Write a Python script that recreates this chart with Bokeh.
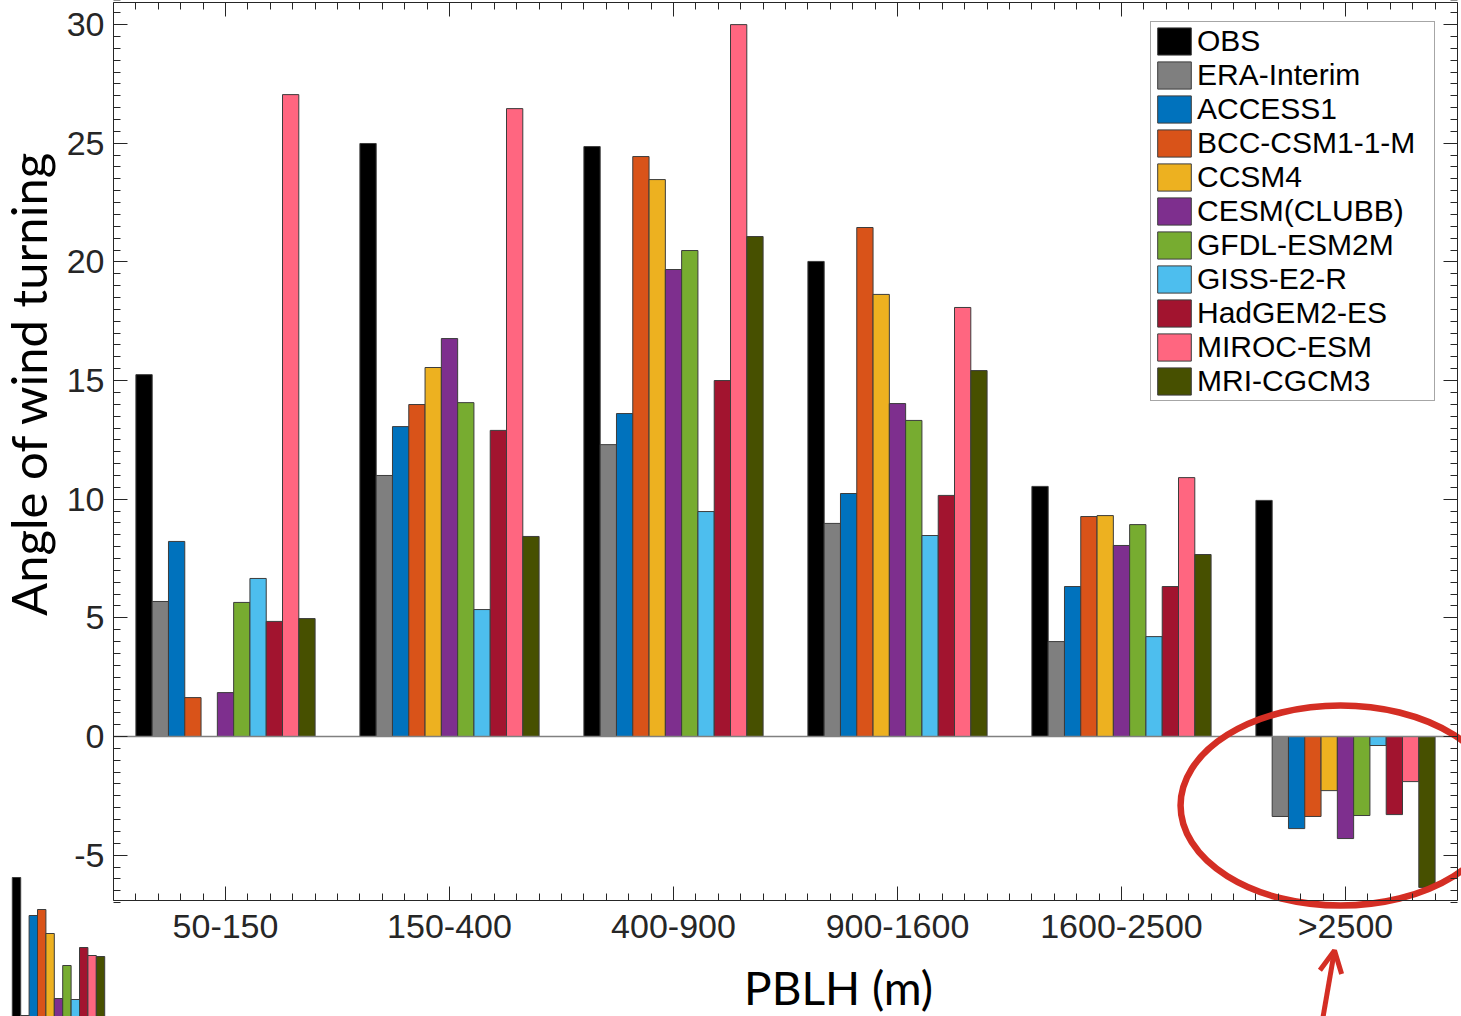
import numpy as np
from bokeh.plotting import figure
from bokeh.models import (ColumnDataSource, FixedTicker, LinearAxis, Legend, LegendItem,
                          Range1d, Label, Grid, Arrow, OpenHead)
from bokeh.embed import file_html
from bokeh.resources import INLINE

nan = float("nan")

# ---------------- data ----------------
categories = ["50-150", "150-400", "400-900", "900-1600", "1600-2500", ">2500"]
series_names = ["OBS", "ERA-Interim", "ACCESS1", "BCC-CSM1-1-M", "CCSM4", "CESM(CLUBB)",
                "GFDL-ESM2M", "GISS-E2-R", "HadGEM2-ES", "MIROC-ESM", "MRI-CGCM3"]
colors = ["#000000", "#7f7f7f", "#0072bd", "#d95319", "#edb120", "#7e2f8e",
          "#77ac30", "#4dbeee", "#a2142f", "#ff6680", "#475000"]

obs          = [15.25, 24.99, 24.86, 20.02, 10.54, 9.95]
era_interim  = [5.69, 11.00, 12.30, 8.98, 4.00, -3.37]
access1      = [8.22, 13.06, 13.61, 10.24, 6.32, -3.88]
bcc_csm1_1_m = [1.64, 13.99, 24.44, 21.45, 9.27, -3.37]
ccsm4        = [nan, 15.55, 23.47, 18.63, 9.31, -2.28]
cesm_clubb   = [1.85, 16.77, 19.68, 14.03, 8.05, -4.30]
gfdl_esm2m   = [5.65, 14.07, 20.48, 13.32, 8.93, -3.33]
giss_e2_r    = [6.66, 5.35, 9.48, 8.47, 4.21, -0.38]
hadgem2_es   = [4.85, 12.90, 15.00, 10.16, 6.32, -3.29]
miroc_esm    = [27.05, 26.46, 30.00, 18.08, 10.91, -1.90]
mri_cgcm3    = [4.97, 8.43, 21.07, 15.42, 7.67, -6.36]

series_values = [obs, era_interim, access1, bcc_csm1_1_m, ccsm4, cesm_clubb,
                 gfdl_esm2m, giss_e2_r, hadgem2_es, miroc_esm, mri_cgcm3]

y_major = [-5, 0, 5, 10, 15, 20, 25, 30]
y_title = "Angle of wind turning"
x_title = "PBLH (m)"

# cropped fragment of a neighbouring panel visible at the bottom-left of the picture
inset_values = [139, 1, 101, 107, 83, 18, 51, 17, 69, 61, 60]

# ---------------- geometry (ranges of the drawing) ----------------
W, H = 1461, 1016
X_LO, X_HI = 0.5, 6.5          # plotted x extent (axis box)
Y_LO, Y_HI = -6.911, 30.93     # plotted y extent (axis box)
# canvas-wide ranges so that the axis box sits at the same place as in the reference
XR = Range1d(-0.00446, 6.5179)
YR = Range1d(-11.799, 31.016)

AX = "#262626"
RED = "#d42e24"

p = figure(width=W, height=H, output_backend="svg", toolbar_location=None,
           x_range=XR, y_range=YR, x_axis_location=None, y_axis_location=None,
           min_border=0)
p.outline_line_color = None
p.background_fill_color = "white"
p.border_fill_color = "white"
for obj in list(p.center):
    if isinstance(obj, Grid):
        obj.visible = False

# inset (fragment) coordinates: one unit per bar / per pixel
p.extra_x_ranges = {"inset_x": Range1d(-1.905, 172.0)}
p.extra_y_ranges = {"inset_y": Range1d(0, 1016)}

ngroups = len(categories)
nser = len(series_names)
bw = 0.8 / nser
gx = np.arange(1, ngroups + 1, dtype=float)

items = []
for j, (name, vals, col) in enumerate(zip(series_names, series_values, colors)):
    src = ColumnDataSource(dict(x=gx + (j - (nser - 1) / 2) * bw, top=np.array(vals, dtype=float)))
    r = p.vbar(x="x", top="top", bottom=0, width=bw, source=src,
               fill_color=col, line_color="#3c3c3c", line_width=1)
    items.append(LegendItem(label=name, renderers=[r]))

# zero line across the axis box
p.segment(x0=[X_LO], y0=[0], x1=[X_HI], y1=[0], line_color="#808080", line_width=1.5)

# fragment bars
p.vbar(x=np.arange(len(inset_values)), top=inset_values, bottom=0, width=1.0,
       fill_color=colors, line_color="#3c3c3c", line_width=1,
       x_range_name="inset_x", y_range_name="inset_y")

# ---------------- axes (box with inward ticks on four sides) ----------------
xt = FixedTicker(ticks=list(gx), minor_ticks=[round(v, 2) for v in np.arange(0.5, 6.51, 0.1)])
yt = FixedTicker(ticks=y_major, minor_ticks=[round(v, 2) for v in np.arange(-7, 31.01, 0.5)])


def style(ax):
    ax.axis_line_color = AX
    ax.axis_line_width = 1
    ax.major_tick_line_color = AX
    ax.minor_tick_line_color = AX
    ax.major_tick_in = 14
    ax.major_tick_out = 0
    ax.minor_tick_in = 7
    ax.minor_tick_out = 0
    ax.major_label_text_font = "Liberation Sans"
    ax.major_label_text_font_size = "34px"
    ax.major_label_text_color = AX


xb = LinearAxis(ticker=xt, fixed_location=Y_LO, bounds=(X_LO, X_HI),
                major_label_overrides={int(i + 1): c for i, c in enumerate(categories)})
style(xb)
xb.major_label_standoff = 6
p.add_layout(xb, "below")

yl = LinearAxis(ticker=yt, fixed_location=X_LO, bounds=(Y_LO, Y_HI),
                major_label_overrides={v: str(v) for v in y_major})
style(yl)
yl.major_label_standoff = 9
p.add_layout(yl, "left")

xtop = LinearAxis(ticker=xt, fixed_location=Y_HI, bounds=(X_LO, X_HI),
                  major_label_overrides={int(v): "" for v in gx})
style(xtop)
p.add_layout(xtop, "above")

yr = LinearAxis(ticker=yt, fixed_location=X_HI, bounds=(Y_LO, Y_HI),
                major_label_overrides={v: "" for v in y_major})
style(yr)
p.add_layout(yr, "right")

# axis titles
p.add_layout(Label(x=0.1161, y=14.88, text=y_title, angle=np.pi / 2, angle_units="rad",
                   text_align="center", text_baseline="alphabetic",
                   text_font="Lato", text_font_size="49px", text_color="black"))
p.add_layout(Label(x=3.737, y=-10.577, text=x_title,
                   text_align="center", text_baseline="alphabetic",
                   text_font="Lato", text_font_size="46px", text_color="black"))

# ---------------- legend ----------------
legend = Legend(items=items, location=(1150, 615), orientation="vertical",
                label_text_font="Liberation Sans", label_text_font_size="30px",
                label_text_color="black", glyph_width=42, glyph_height=34,
                label_height=30, label_width=235, label_standoff=2, spacing=0,
                padding=2, margin=0,
                border_line_color="#4d4d4d", border_line_width=1,
                background_fill_color="white", background_fill_alpha=1.0)
p.add_layout(legend)

# ---------------- red hand-drawn annotation (ellipse + arrow) ----------------
p.ellipse(x=[5.978], y=[-2.908], width=1.4286, height=8.43, fill_color=None,
          line_color=RED, line_width=6.5)
p.add_layout(Arrow(end=OpenHead(size=22, line_color=RED, line_width=5),
                   x_start=5.897, y_start=-11.97, x_end=5.951, y_end=-9.018,
                   line_color=RED, line_width=5))

open("out.html", "w").write(file_html(p, INLINE))
